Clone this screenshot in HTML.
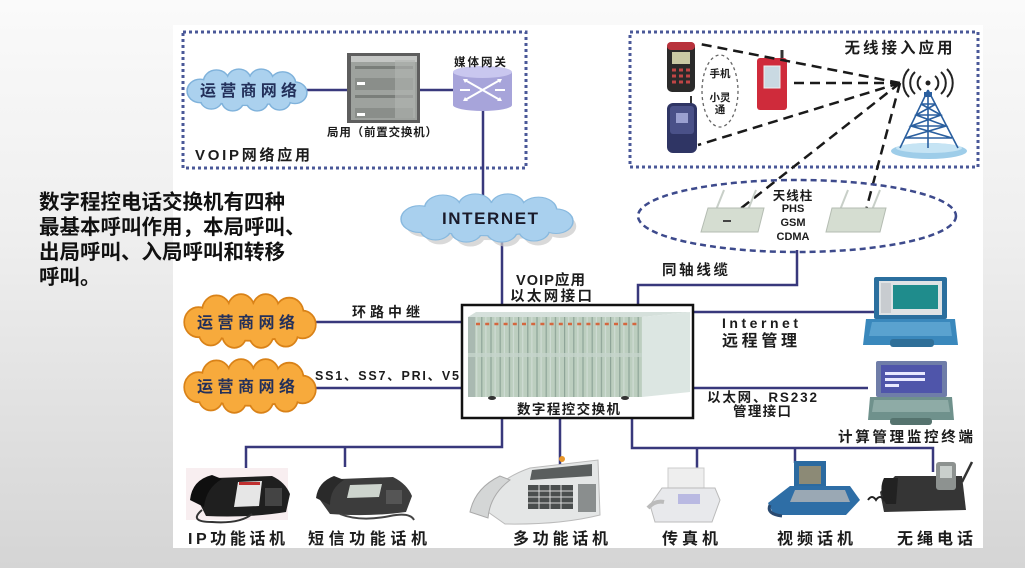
<!DOCTYPE html>
<html><head><meta charset="utf-8">
<style>
html,body{margin:0;padding:0;}
body{width:1025px;height:568px;overflow:hidden;position:relative;background:linear-gradient(to bottom,#fafafa 0%,#efefef 40%,#d5d5d5 100%);font-family:"Liberation Sans","Noto Sans CJK SC",sans-serif;}
svg{position:absolute;left:0;top:0;}
.lt{position:absolute;left:39px;top:190px;font-size:20.5px;line-height:25px;font-weight:bold;color:#111;font-family:"Liberation Sans","Noto Sans CJK SC",sans-serif;white-space:nowrap;}
</style></head><body>
<svg width="1025" height="568" viewBox="0 0 1025 568" xmlns="http://www.w3.org/2000/svg">
<style>
.t{font-family:"Liberation Sans","Noto Sans CJK SC",sans-serif;font-weight:bold;fill:#1c1c1c;}
.ln{stroke:#38387c;stroke-width:2.5;fill:none;}
</style>
<defs>
<g id="cl">
<ellipse cx="0" cy="1" rx="50" ry="15"/>
<circle cx="-46" cy="1" r="12"/>
<circle cx="-30" cy="-9" r="12"/>
<circle cx="-8" cy="-11" r="11"/>
<circle cx="14" cy="-11" r="11"/>
<circle cx="35" cy="-7" r="12"/>
<circle cx="47" cy="3" r="11"/>
<circle cx="32" cy="11" r="10"/>
<circle cx="10" cy="12" r="10"/>
<circle cx="-14" cy="12" r="10"/>
<circle cx="-35" cy="10" r="10"/>
</g>
<pattern id="slots" x="472" y="0" width="9.2" height="10" patternUnits="userSpaceOnUse">
<rect width="9.2" height="10" fill="#bccebf"/>
<rect x="0" width="1.2" height="10" fill="#8ea498"/>
<rect x="4.2" width="1" height="10" fill="#d3dfd8"/>
</pattern>
</defs>

<!-- white panel -->
<rect x="173" y="25" width="810" height="523" fill="#ffffff"/>

<!-- VOIP box -->
<rect x="183" y="32" width="343" height="136" fill="none" stroke="#4a5898" stroke-width="3" stroke-dasharray="3 3"/>
<!-- wireless box -->
<rect x="630" y="32" width="348" height="135" fill="none" stroke="#4a5898" stroke-width="3" stroke-dasharray="3 3"/>

<!-- connector lines -->
<path class="ln" d="M305 90 H348 M420 90 H455 M483 108 V200 M502 240 V305"/>
<path class="ln" d="M797 250 V285 H638 V305"/>
<path class="ln" d="M693 312 H876 M693 388 H868"/>
<path class="ln" d="M315 322 H462 M315 388 H462"/>
<path class="ln" d="M502 418 V447 H246 V474 M345 447 V467 M560 418 V466"/>
<path class="ln" d="M632 418 V448 H933 V472 M697 448 V470 M795 448 V463"/>

<!-- VOIP blue cloud -->
<use href="#cl" transform="translate(247,90) scale(1.02,0.92)" fill="#7fb2db" stroke="#7fb2db" stroke-width="3"/>
<use href="#cl" transform="translate(247,90) scale(1.02,0.92)" fill="#abd1ee"/>
<text class="t" x="200" y="96" font-size="16" textLength="97" lengthAdjust="spacing" style="fill:#23305a">运营商网络</text>

<!-- local switch cabinet -->
<rect x="347" y="53" width="73" height="70" fill="#5e5e5e"/>
<rect x="351" y="56" width="66" height="64" fill="#9ea29e"/>
<rect x="351" y="56" width="66" height="6" fill="#c4c6c4"/>
<rect x="355" y="66" width="58" height="3" fill="#7a7e7a"/>
<rect x="355" y="78" width="58" height="12" fill="#8a8e8a"/>
<rect x="357" y="82" width="8" height="3" fill="#ffffff"/>
<rect x="355" y="95" width="58" height="3" fill="#7a7e7a"/>
<rect x="355" y="108" width="58" height="10" fill="#8a8e8a"/>
<rect x="357" y="113" width="8" height="3" fill="#ffffff"/>
<rect x="395" y="60" width="20" height="58" fill="#b2b6b2" opacity="0.6"/>
<text class="t" x="327" y="136" font-size="11.5" textLength="110" lengthAdjust="spacing">局用（前置交换机）</text>

<!-- media gateway -->
<rect x="453" y="72" width="59" height="33" fill="#a7a4da"/>
<ellipse cx="482.5" cy="105" rx="29.5" ry="6" fill="#a7a4da"/>
<ellipse cx="482.5" cy="72" rx="29.5" ry="6" fill="#c9c7ef"/>
<path d="M465 80 L500 100 M465 100 L500 80 M460 90 H470 M495 90 H505" stroke="#ffffff" stroke-width="2" fill="none"/>
<path d="M463 79 l5 0 l-3 4 z M502 79 l-5 0 l3 4 z M463 101 l5 0 l-3 -4 z M502 101 l-5 0 l3 -4 z" fill="#fff"/>
<text class="t" x="481" y="66" font-size="11.5" text-anchor="middle" letter-spacing="2">媒体网关</text>
<text class="t" x="195" y="160" font-size="15" textLength="115" lengthAdjust="spacing">VOIP网络应用</text>

<!-- INTERNET cloud -->
<use href="#cl" transform="translate(491,223) scale(1.47,1.07)" fill="#c9c9c9" opacity="0.7"/>
<use href="#cl" transform="translate(487,218) scale(1.47,1.07)" fill="#88b9df" stroke="#88b9df" stroke-width="2"/>
<use href="#cl" transform="translate(487,218) scale(1.47,1.07)" fill="#a9d0ee"/>
<text class="t" x="442" y="224" font-size="17" textLength="96" lengthAdjust="spacing" style="fill:#1a1a2a">INTERNET</text>

<text class="t" x="516" y="285" font-size="14.5" textLength="69" lengthAdjust="spacing">VOIP应用</text>
<text class="t" x="510" y="301" font-size="14.5" textLength="82" lengthAdjust="spacing">以太网接口</text>
<text class="t" x="662" y="275" font-size="14.5" textLength="66" lengthAdjust="spacing">同轴线缆</text>

<!-- orange clouds -->
<use href="#cl" transform="translate(250,321) scale(1.12,1.18)" fill="#d98218" stroke="#d98218" stroke-width="3"/>
<use href="#cl" transform="translate(250,321) scale(1.12,1.18)" fill="#f7aa3c"/>
<text class="t" x="197" y="328" font-size="16" textLength="98" lengthAdjust="spacing" style="fill:#23305a">运营商网络</text>
<use href="#cl" transform="translate(250,386) scale(1.12,1.18)" fill="#d98218" stroke="#d98218" stroke-width="3"/>
<use href="#cl" transform="translate(250,386) scale(1.12,1.18)" fill="#f7aa3c"/>
<text class="t" x="197" y="392" font-size="16" textLength="98" lengthAdjust="spacing" style="fill:#23305a">运营商网络</text>
<text class="t" x="352" y="317" font-size="14" textLength="68" lengthAdjust="spacing">环路中继</text>
<text class="t" x="315" y="380" font-size="12.5" textLength="144" lengthAdjust="spacing">SS1、SS7、PRI、V5</text>

<!-- main switch box -->
<rect x="462" y="305" width="231" height="113" fill="#ffffff" stroke="#111" stroke-width="2.5"/>
<rect x="468" y="317" width="174" height="80" fill="url(#slots)"/>
<rect x="468" y="317" width="7" height="80" fill="#a9b9b1"/>
<polygon points="468,317 476,312 690,312 642,317" fill="#d5e0db"/>
<polygon points="642,317 690,312 690,392 642,397" fill="#dce6e2"/>
<line x1="476" y1="324" x2="640" y2="324" stroke="#d4673f" stroke-width="2.5" stroke-dasharray="4 5.2"/>
<rect x="468" y="353" width="174" height="4" fill="#c6d5cc" opacity="0.8"/>
<ellipse cx="492" cy="398" rx="4" ry="2" fill="#333"/>
<ellipse cx="625" cy="398" rx="4" ry="2" fill="#333"/>
<text class="t" x="517" y="414" font-size="13.5" textLength="103" lengthAdjust="spacing">数字程控交换机</text>

<!-- right side labels -->
<text class="t" x="722" y="328" font-size="14" textLength="76" lengthAdjust="spacing">Internet</text>
<text class="t" x="722" y="346" font-size="16" textLength="75" lengthAdjust="spacing">远程管理</text>
<text class="t" x="707" y="402" font-size="13.5" textLength="110" lengthAdjust="spacing">以太网、RS232</text>
<text class="t" x="733" y="416" font-size="13.5" textLength="58" lengthAdjust="spacing">管理接口</text>
<text class="t" x="838" y="442" font-size="14.5" textLength="135" lengthAdjust="spacing">计算管理监控终端</text>

<!-- laptop 1 -->
<rect x="874" y="277" width="73" height="42" rx="2" fill="#2b6f9e"/>
<rect x="879" y="281" width="63" height="34" fill="#dfe3e5"/>
<rect x="893" y="285" width="45" height="24" fill="#1f8c8c"/>
<rect x="881" y="283" width="10" height="30" fill="#c8ccd0"/>
<polygon points="866,319 955,319 958,345 863,345" fill="#3a88bc"/>
<polygon points="872,322 950,322 952,336 869,336" fill="#5aa2cf"/>
<rect x="890" y="339" width="44" height="8" rx="3" fill="#2f6f98"/>
<!-- laptop 2 -->
<rect x="876" y="361" width="71" height="36" rx="2" fill="#6f7da8"/>
<rect x="881" y="365" width="61" height="28" fill="#4f55aa"/>
<rect x="885" y="372" width="40" height="3" fill="#e8e8ff"/>
<rect x="885" y="378" width="40" height="3" fill="#e8e8ff"/>
<rect x="885" y="384" width="14" height="3" fill="#e8e8ff"/>
<polygon points="870,397 952,397 954,420 868,420" fill="#6f918c"/>
<polygon points="874,400 948,400 950,412 872,412" fill="#8eaba6"/>
<rect x="890" y="418" width="42" height="7" rx="3" fill="#55736e"/>

<!-- wireless section -->
<ellipse cx="720" cy="91" rx="18" ry="36" fill="none" stroke="#666" stroke-width="1.3" stroke-dasharray="3 3"/>
<text class="t" x="720" y="77" font-size="10.5" text-anchor="middle">手机</text>
<text class="t" x="720" y="101" font-size="10.5" text-anchor="middle">小灵</text>
<text class="t" x="720" y="113" font-size="10.5" text-anchor="middle">通</text>
<!-- black phone -->
<rect x="667" y="42" width="28" height="50" rx="5" fill="#2a2a2a"/>
<rect x="667" y="42" width="28" height="8" rx="4" fill="#b8323c"/>
<rect x="672" y="52" width="18" height="12" fill="#c9c9a4"/>
<path d="M672 70 h18 M672 76 h18 M672 82 h18" stroke="#c04545" stroke-width="3" stroke-dasharray="4 3"/>
<!-- flip phone -->
<line x1="691" y1="96" x2="691" y2="106" stroke="#333" stroke-width="2"/>
<rect x="667" y="103" width="30" height="50" rx="6" fill="#2f3564"/>
<rect x="670" y="106" width="24" height="28" rx="3" fill="#4a5188"/>
<rect x="676" y="113" width="12" height="10" fill="#9aa0d0"/>
<!-- red phone -->
<line x1="782" y1="50" x2="782" y2="60" stroke="#333" stroke-width="3"/>
<rect x="757" y="58" width="30" height="52" rx="3" fill="#cf2b3b"/>
<rect x="764" y="66" width="16" height="22" fill="#c9d9e2" stroke="#eee" stroke-width="1"/>
<!-- tower -->
<ellipse cx="929" cy="151" rx="38" ry="8" fill="#9ecde9"/>
<ellipse cx="929" cy="148" rx="33" ry="5" fill="#c6e4f4"/>
<path d="M928 90 L900 148 M928 90 L958 148 M928 90 V148 M921 104 L936 104 M916 115 L941 115 M911 126 L946 126 M905 138 L952 138 M921 104 L941 115 L911 126 L952 138 M936 104 L916 115 L946 126 L905 138" stroke="#2a5f9f" stroke-width="1.6" fill="none"/>
<rect x="924" y="92" width="8" height="5" fill="#2a5f9f"/>
<circle cx="928" cy="83" r="2.5" fill="#222"/>
<path d="M921 76 A9 9 0 0 0 921 90 M915 72 A15 15 0 0 0 915 94 M909 69 A20 20 0 0 0 909 97 M935 76 A9 9 0 0 1 935 90 M941 72 A15 15 0 0 1 941 94 M947 69 A20 20 0 0 1 947 97" stroke="#222" stroke-width="2" fill="none"/>
<!-- dashed signal lines -->
<path d="M900 83 L700 44 M900 83 L793 83 M900 83 L698 145 M900 83 L735 213 M900 83 L866 210 L862 222" stroke="#1a1a1a" stroke-width="2.5" stroke-dasharray="10 6" fill="none"/>
<text class="t" x="900" y="53" font-size="15.5" text-anchor="middle" letter-spacing="3">无线接入应用</text>

<!-- antenna ellipse -->
<ellipse cx="797" cy="216" rx="159" ry="36" fill="none" stroke="#3d4a8c" stroke-width="2.5" stroke-dasharray="6 4"/>
<line x1="716" y1="210" x2="724" y2="190" stroke="#c8cfc8" stroke-width="2"/>
<line x1="748" y1="210" x2="756" y2="190" stroke="#c8cfc8" stroke-width="2"/>
<polygon points="708,208 764,208 758,232 701,232" fill="#d5ddd1" stroke="#b4bcb2" stroke-width="1"/>
<rect x="723" y="220" width="8" height="2" fill="#444"/>
<line x1="840" y1="210" x2="848" y2="190" stroke="#c8cfc8" stroke-width="2"/>
<line x1="872" y1="210" x2="880" y2="190" stroke="#c8cfc8" stroke-width="2"/>
<polygon points="832,208 886,208 880,232 826,232" fill="#d5ddd1" stroke="#b4bcb2" stroke-width="1"/>
<text class="t" x="793" y="200" font-size="12.5" text-anchor="middle" letter-spacing="1">天线柱</text>
<text class="t" x="793" y="212" font-size="11" text-anchor="middle">PHS</text>
<text class="t" x="793" y="226" font-size="11" text-anchor="middle">GSM</text>
<text class="t" x="793" y="240" font-size="11" text-anchor="middle">CDMA</text>

<!-- bottom devices -->
<!-- IP phone -->
<rect x="186" y="468" width="102" height="52" fill="#f8eef0"/>
<path d="M198 500 Q203 485 216 478 L272 476 Q285 482 290 494 L286 512 Q250 518 206 516 Z" fill="#1f1f1f"/>
<path d="M190 500 Q192 480 212 475 L222 479 Q206 488 204 507 Z" fill="#0f0f0f"/>
<polygon points="238,482 262,481 259,506 234,507" fill="#e6e6e6"/>
<rect x="239" y="482" width="21" height="3" fill="#c03030"/>
<rect x="265" y="488" width="17" height="18" fill="#444"/>
<path d="M202 510 Q188 522 212 522 Q240 524 252 514" stroke="#333" fill="none" stroke-width="2"/>
<!-- SMS phone -->
<path d="M320 500 Q326 484 340 479 L393 477 Q407 484 412 496 L406 512 Q370 517 330 514 Z" fill="#3c3c3c"/>
<path d="M316 498 Q318 482 334 476 L344 480 Q330 488 330 505 Z" fill="#2a2a2a"/>
<polygon points="350,485 382,484 379,497 347,498" fill="#cdd4cd"/>
<rect x="386" y="490" width="16" height="14" fill="#555"/>
<path d="M340 514 Q360 522 390 516 Q410 512 414 520" stroke="#444" fill="none" stroke-width="2"/>
<!-- multifunction phone -->
<path d="M478 505 Q500 478 530 468 L598 460 L600 515 Q560 525 505 524 Z" fill="#e4e6e6" stroke="#bbb" stroke-width="1"/>
<path d="M470 512 Q475 488 500 476 L510 480 Q490 495 488 518 Z" fill="#d4d6d6" stroke="#aaa" stroke-width="1"/>
<polygon points="532,470 592,464 592,476 530,480" fill="#5a5e5e"/>
<rect x="528" y="485" width="45" height="24" fill="#4a4e4e"/>
<path d="M528 491 h45 M528 497 h45 M528 503 h45 M539 485 v24 M550 485 v24 M561 485 v24" stroke="#d8d8d8" stroke-width="1"/>
<rect x="578" y="484" width="18" height="28" fill="#8a8e8e"/>
<circle cx="562" cy="459" r="3" fill="#e8962a"/>
<!-- fax -->
<rect x="668" y="468" width="36" height="22" fill="#eeeeee" stroke="#ccc" stroke-width="1"/>
<path d="M650 505 L662 488 L715 488 L720 500 L712 522 L655 522 Z" fill="#e8e9ec" stroke="#bbb" stroke-width="1"/>
<rect x="678" y="494" width="22" height="10" fill="#b9b9e2"/>
<path d="M648 508 Q655 500 664 502" stroke="#bbb" stroke-width="4" fill="none"/>
<!-- video phone -->
<rect x="794" y="461" width="32" height="30" fill="#2b6aa0"/>
<rect x="799" y="466" width="22" height="18" fill="#8c8a76"/>
<path d="M768 503 L790 486 L850 486 L860 500 L846 515 L774 515 Z" fill="#2e6ea6"/>
<polygon points="795,490 845,490 850,502 790,502" fill="#9aa8b4"/>
<path d="M770 505 Q766 514 782 516" stroke="#2a4a70" stroke-width="3" fill="none"/>
<!-- cordless phone -->
<path d="M880 492 L895 476 L962 476 L966 510 L884 512 Z" fill="#353535"/>
<path d="M884 478 Q878 490 886 504 L896 504 L898 478 Z" fill="#222"/>
<rect x="936" y="462" width="20" height="28" rx="3" fill="#8d9290"/>
<rect x="940" y="466" width="12" height="12" fill="#c9cfcc"/>
<line x1="962" y1="482" x2="972" y2="462" stroke="#333" stroke-width="2.5"/>
<path d="M868 500 q4 -6 8 0 q4 -6 8 0 q4 -6 8 0" stroke="#222" stroke-width="2" fill="none"/>

<!-- bottom labels -->
<text class="t" x="188" y="544" font-size="16" textLength="97" lengthAdjust="spacing">IP功能话机</text>
<text class="t" x="308" y="544" font-size="16" textLength="119" lengthAdjust="spacing">短信功能话机</text>
<text class="t" x="513" y="544" font-size="16" textLength="95" lengthAdjust="spacing">多功能话机</text>
<text class="t" x="662" y="544" font-size="16" textLength="56" lengthAdjust="spacing">传真机</text>
<text class="t" x="777" y="544" font-size="16" textLength="76" lengthAdjust="spacing">视频话机</text>
<text class="t" x="897" y="544" font-size="16" textLength="76" lengthAdjust="spacing">无绳电话</text>
</svg>
<div class="lt">数字程控电话交换机有四种<br>最基本呼叫作用，本局呼叫、<br>出局呼叫、入局呼叫和转移<br>呼叫。</div>
</body></html>
